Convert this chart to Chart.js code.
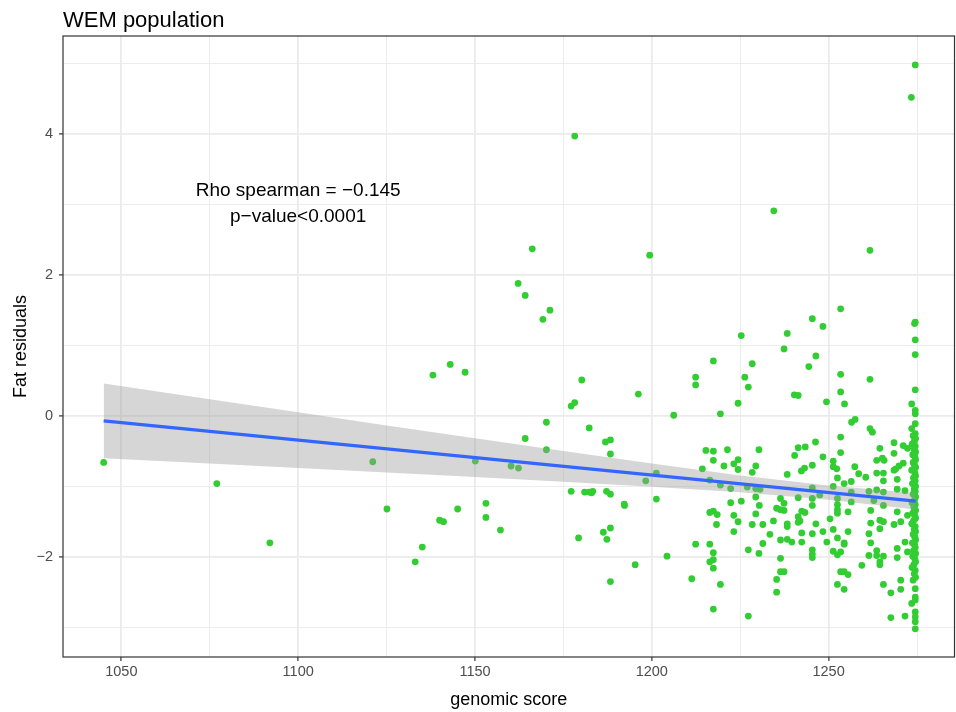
<!DOCTYPE html>
<html>
<head>
<meta charset="utf-8">
<title>WEM population</title>
<script src="https://cdn.jsdelivr.net/npm/chart.js@4/dist/chart.umd.min.js"></script>
<style>
  html, body { margin: 0; padding: 0; background: #ffffff; overflow: hidden; }
  #wrap { width: 956px; height: 712px; }
  canvas { display: block; }
</style>
</head>
<body>
<div id="wrap"><canvas id="scatterChart" width="956" height="712"></canvas></div>
<script>
// --- Data ---

// genomic score of each animal (x), same order as fatResiduals
const genomicScore = [
    // left / middle part
    1045.0, 1077.0, 1092.0, 1121.1, 1125.1, 1133.1, 1135.1, 1138.1, 1140.0, 1141.1,
    1143.0, 1145.1, 1147.2, 1150.1, 1153.1, 1153.1, 1157.2, 1160.2, 1162.2, 1162.3,
    1164.2, 1164.2, 1166.2, 1169.2, 1170.2, 1170.2, 1171.2, 1177.2, 1177.2, 1178.2,
    1178.2, 1179.3, 1180.2, 1181.0, 1182.3, 1182.3, 1183.3, 1183.0, 1186.3, 1186.9,
    1187.2, 1187.3, 1188.3, 1188.3, 1188.3, 1188.3, 1188.3, 1192.2, 1192.3, 1195.3,
    1196.2, 1198.3, 1199.4, 1201.3, 1201.3,
    // upper right
    1234.5, 1261.7, 1253.4, 1245.4, 1248.4, 1238.3, 1225.3, 1237.4, 1217.4, 1228.4,
    1246.4, 1244.4, 1212.4, 1212.4, 1226.3, 1227.3, 1253.4, 1253.4, 1254.5, 1240.3,
    1241.4, 1249.4, 1224.4, 1206.2, 1219.4, 1256.5, 1257.5, 1261.7, 1261.7, 1262.4,
    // dense cloud 1200-1262
    1253.4, 1253.4, 1246.3, 1241.4, 1243.4, 1240.4, 1248.4, 1251.3, 1252.3, 1251.3,
    1257.4, 1258.5, 1260.5, 1254.4, 1256.4, 1252.5, 1251.3, 1245.4, 1243.2, 1242.3,
    1238.3, 1230.3, 1229.4, 1228.4, 1221.4, 1215.3, 1217.4, 1217.4, 1214.3, 1220.4,
    1223.2, 1224.4, 1224.4, 1216.4, 1219.4, 1222.3, 1227.0, 1229.4, 1230.6, 1229.4,
    1222.3, 1225.3, 1230.4, 1216.4, 1217.4, 1218.5, 1218.3, 1223.2, 1224.4, 1229.4,
    1228.4, 1231.4, 1223.2, 1234.4, 1233.4, 1231.4, 1230.3, 1227.3, 1236.4, 1237.4,
    1236.4, 1237.4, 1235.3, 1238.3, 1238.3, 1236.4, 1238.3, 1239.6, 1236.4, 1236.4,
    1237.4, 1235.3, 1235.3, 1227.3, 1217.4, 1219.4, 1211.3, 1204.3, 1212.4, 1216.4,
    1217.4, 1216.4, 1217.4, 1217.4, 1241.4, 1241.4, 1242.4, 1243.3, 1241.9, 1241.4,
    1242.4, 1242.4, 1245.4, 1245.4, 1245.4, 1247.5, 1246.4, 1245.4, 1248.4, 1249.5,
    1245.4, 1245.4, 1245.4, 1250.4, 1251.3, 1252.5, 1252.5, 1252.5, 1252.5, 1252.5,
    1254.4, 1254.4, 1255.5, 1255.5, 1256.4, 1256.4, 1251.3, 1252.5, 1253.4, 1253.4,
    1254.4, 1255.5, 1252.5, 1254.4, 1259.4, 1261.4, 1261.9, 1261.9, 1261.4, 1261.9, 1261.4,
    // 1262-1273
    1268.5, 1271.1, 1272.3, 1264.5, 1263.6, 1265.2, 1265.7, 1268.5, 1271.1, 1269.9,
    1269.0, 1268.5, 1263.6, 1265.5, 1265.5, 1269.4, 1263.6, 1265.5, 1269.4, 1271.6,
    1262.8, 1265.5, 1269.4, 1264.5, 1265.5, 1264.5, 1268.5, 1270.4, 1272.3, 1263.6,
    1263.6, 1265.5, 1269.4, 1269.4, 1271.6, 1272.3, 1264.5, 1264.5, 1265.5, 1267.6,
    1270.4, 1270.4, 1267.6, 1271.6,
    // column at the maximum score
    1274.5, 1273.4, 1274.5, 1274.3, 1274.5, 1274.5, 1274.5, 1273.5, 1274.5, 1274.5, 1274.5, 1273.5,
    1274.5, 1273.9, 1274.6, 1274.2, 1273.6, 1274.5, 1274.1, 1274.6, 1273.8, 1274.4,
    1274.6, 1273.9, 1274.3, 1274.6, 1273.5, 1274.4, 1274.6, 1274.0, 1274.5, 1273.7,
    1274.6, 1274.2, 1274.5, 1273.9, 1274.6, 1274.3, 1273.6, 1274.5, 1274.1, 1274.6,
    1273.8, 1274.4, 1274.6, 1274.0, 1273.5, 1274.5, 1274.2, 1274.6, 1273.9, 1274.4,
    1274.6, 1273.7, 1274.3, 1274.5, 1274.0, 1274.6, 1273.8, 1274.4, 1274.6, 1274.1,
    1273.6, 1274.5, 1274.2, 1274.6, 1273.9,
    1274.5, 1274.5, 1274.5, 1273.5, 1274.5, 1274.5, 1274.5, 1274.5
];

// fat residual of each animal (y)
const fatResiduals = [
    -0.66, -0.96, -1.80, -0.65, -1.32, -2.07, -1.86, 0.58, -1.48, -1.50,
    0.73, -1.32, 0.62, -0.64, -1.24, -1.44, -1.62, -0.71, 1.88, -0.74,
    -0.32, 1.71, 2.37, 1.37, -0.09, -0.48, 1.50, 0.14, -1.07, 0.19,
    3.97, -1.73, 0.51, -1.08, -0.17, -1.08, -1.07, -1.09, -1.65, -0.37,
    -1.07, -1.75, -0.34, -0.54, -1.11, -1.59, -2.35, -1.25, -1.27, -2.11,
    0.31, -0.92, 2.28, -0.81, -1.18,

    2.91, 2.35, 1.52, 1.38, 1.27, 1.17, 1.14, 0.95, 0.78, 0.74,
    0.85, 0.70, 0.55, 0.44, 0.55, 0.41, 0.59, 0.34, 0.17, 0.30,
    0.29, 0.20, 0.18, 0.01, 0.03, -0.09, -0.05, 0.52, -0.18, -0.23,

    -0.30, -0.52, -0.37, -0.45, -0.44, -0.56, -0.58, -0.64, -0.75, -0.72,
    -0.72, -0.82, -0.87, -0.96, -0.93, -0.88, -1.00, -0.70, -0.74, -0.78,
    -0.83, -0.48, -0.71, -0.80, -0.48, -0.49, -0.50, -0.63, -0.75, -0.71,
    -0.68, -0.62, -0.76, -0.91, -0.98, -1.03, -1.01, -1.03, -1.04, -1.15,
    -1.23, -1.21, -1.27, -1.37, -1.35, -1.40, -1.54, -1.41, -1.50, -1.39,
    -1.54, -1.54, -1.64, -1.49, -1.68, -1.81, -1.95, -1.90, -1.17, -1.24,
    -1.33, -1.34, -1.31, -1.53, -1.57, -1.76, -1.75, -1.79, -2.02, -2.21,
    -2.21, -2.32, -2.50, -2.84, -2.74, -2.39, -2.31, -1.99, -1.82, -1.82,
    -1.94, -2.07, -2.04, -2.16, -1.16, -1.43, -1.35, -1.37, -1.49, -1.51,
    -1.66, -1.79, -1.02, -1.17, -1.27, -1.12, -1.53, -1.67, -1.64, -1.79,
    -1.90, -1.96, -2.01, -1.46, -1.61, -1.17, -1.26, -1.33, -1.38, -1.73,
    -1.80, -1.82, -1.36, -1.64, -1.22, -1.08, -1.92, -1.97, -1.93, -2.21,
    -2.21, -2.25, -2.39, -2.46, -2.12, -1.98, -1.34, -1.52, -1.67, -1.80, -1.07,

    -0.38, -0.42, -0.46, -0.46, -0.63, -0.60, -0.63, -0.53, -0.67, -0.71,
    -0.75, -0.77, -0.81, -0.81, -0.92, -0.90, -1.05, -1.08, -1.04, -1.06,
    -1.20, -1.27, -1.36, -1.48, -1.50, -1.60, -1.54, -1.50, -1.41, -1.91,
    -1.98, -1.99, -1.88, -2.01, -1.79, -1.93, -2.07, -2.11, -2.39, -2.51,
    -2.33, -2.46, -2.86, -2.84,

    4.98, 4.52, 1.33, 1.31, 1.08, 0.87, 0.37, 0.17, 0.08, 0.03, -0.11, -0.18,
    -0.25, -0.28, -0.32, -0.36, -0.40, -0.43, -0.47, -0.51, -0.55, -0.58,
    -0.62, -0.66, -0.70, -0.73, -0.77, -0.81, -0.85, -0.88, -0.92, -0.96,
    -1.00, -1.04, -1.07, -1.11, -1.15, -1.19, -1.23, -1.26, -1.30, -1.34,
    -1.38, -1.42, -1.45, -1.49, -1.53, -1.57, -1.61, -1.64, -1.68, -1.72,
    -1.76, -1.80, -1.83, -1.87, -1.91, -1.95, -1.99, -2.03, -2.07, -2.11,
    -2.15, -2.19, -2.24, -2.29, -2.33,
    -2.45, -2.57, -2.61, -2.66, -2.78, -2.85, -2.92, -3.02
];

// linear fit and its confidence band
const fitScore = [1045, 1274.6];
const fitValue = [-0.071, -1.21];
const bandScore = [1045, 1075, 1100, 1125, 1150, 1175, 1200, 1225, 1250, 1274.6];
const bandUpper = [0.459, 0.236, 0.051, -0.134, -0.317, -0.499, -0.676, -0.844, -0.988, -1.094];
const bandLower = [-0.601, -0.676, -0.739, -0.802, -0.867, -0.933, -1.004, -1.084, -1.188, -1.326];

// axes
const xMajorTicks = [1050, 1100, 1150, 1200, 1250];
const xMinorTicks = [1075, 1125, 1175, 1225, 1275];
const yMajorTicks = [-2, 0, 2, 4];
const yMinorTicks = [-3, -1, 1, 3, 5];

// annotation text
const annotationLines = ['Rho spearman = \u22120.145', 'p\u2212value<0.0001'];

document.addEventListener('DOMContentLoaded', () => {
    if (genomicScore.length !== fatResiduals.length) {
        console.log('length mismatch', genomicScore.length, fatResiduals.length);
    }

    const FONT = '"Liberation Sans", Arial, Helvetica, sans-serif';
    const xRange = { min: 1033.5, max: 1285.6 };
    const yRange = { min: -3.42, max: 5.39 };
    const annoPos = { x: 1100, y: [3.2, 2.82] };

    const toPoints = (xs, ys) => xs.map((x, i) => ({ x: x, y: ys[i] }));
    const fmtNum = (v) => (v < 0 ? '\u2212' + Math.abs(v) : String(v));

    // frame, title and text annotation
    const decorPlugin = {
        id: 'decor',
        afterDatasetsDraw(chart) {
            const { ctx, chartArea: a, scales: { x, y } } = chart;
            ctx.save();
            ctx.fillStyle = '#000000';
            ctx.font = '19px ' + FONT;
            ctx.textAlign = 'center';
            ctx.textBaseline = 'middle';
            annotationLines.forEach((t, i) => {
                ctx.fillText(t, x.getPixelForValue(annoPos.x), y.getPixelForValue(annoPos.y[i]));
            });
            ctx.strokeStyle = '#333333';
            ctx.lineWidth = 1.2;
            ctx.strokeRect(a.left, a.top, a.right - a.left, a.bottom - a.top);
            ctx.font = '22px ' + FONT;
            ctx.textAlign = 'left';
            ctx.textBaseline = 'alphabetic';
            ctx.fillText('WEM population', a.left, 27);
            ctx.restore();
        }
    };

    const ctx = document.getElementById('scatterChart').getContext('2d');
    new Chart(ctx, {
        type: 'scatter',
        data: {
            datasets: [
                {
                    type: 'line',
                    data: toPoints(fitScore, fitValue),
                    borderColor: '#3366FF',
                    borderWidth: 3.3,
                    pointRadius: 0,
                    fill: false,
                    order: 1
                },
                {
                    type: 'line',
                    data: toPoints(bandScore, bandUpper),
                    borderColor: 'rgba(0,0,0,0)',
                    backgroundColor: 'rgba(153,153,153,0.4)',
                    pointRadius: 0,
                    fill: '+1',
                    order: 2
                },
                {
                    type: 'line',
                    data: toPoints(bandScore, bandLower),
                    borderColor: 'rgba(0,0,0,0)',
                    pointRadius: 0,
                    fill: false,
                    order: 2
                },
                {
                    type: 'scatter',
                    data: toPoints(genomicScore, fatResiduals),
                    backgroundColor: '#32CD32',
                    borderWidth: 0,
                    pointRadius: 3.4,
                    order: 3
                }
            ]
        },
        options: {
            responsive: false,
            animation: false,
            devicePixelRatio: 1,
            layout: { autoPadding: false, padding: { top: 36, right: 1.5, bottom: 0, left: 0 } },
            plugins: { legend: { display: false }, tooltip: { enabled: false }, title: { display: false } },
            scales: {
                x: {
                    type: 'linear',
                    position: 'bottom',
                    min: xRange.min,
                    max: xRange.max,
                    afterBuildTicks: (axis) => {
                        axis.ticks = xMajorTicks.concat(xMinorTicks).sort((a, b) => a - b).map(v => ({ value: v }));
                    },
                    afterFit: (axis) => {
                        axis.height = 55;
                        axis.paddingLeft = 0;
                        axis.paddingRight = 0;
                    },
                    border: { display: false },
                    grid: {
                        color: '#EBEBEB',
                        lineWidth: (c) => (xMajorTicks.includes(c.tick.value) ? 1.8 : 0.9),
                        tickLength: 4,
                        tickWidth: 1.2,
                        tickColor: (c) => (xMajorTicks.includes(c.tick.value) ? '#333333' : 'rgba(0,0,0,0)')
                    },
                    ticks: {
                        autoSkip: false,
                        maxRotation: 0,
                        padding: 2,
                        color: '#4D4D4D',
                        font: { family: FONT, size: 14.5 },
                        callback: (v) => (xMajorTicks.includes(v) ? String(v) : '')
                    },
                    title: {
                        display: true,
                        text: 'genomic score',
                        color: '#000000',
                        font: { family: FONT, size: 18 },
                        padding: { top: 0, bottom: 1 }
                    }
                },
                y: {
                    type: 'linear',
                    position: 'left',
                    min: yRange.min,
                    max: yRange.max,
                    afterBuildTicks: (axis) => {
                        axis.ticks = yMajorTicks.concat(yMinorTicks).sort((a, b) => a - b).map(v => ({ value: v }));
                    },
                    afterFit: (axis) => {
                        axis.width = 63;
                        axis.paddingTop = 0;
                        axis.paddingBottom = 0;
                    },
                    border: { display: false },
                    grid: {
                        color: '#EBEBEB',
                        lineWidth: (c) => (yMajorTicks.includes(c.tick.value) ? 1.8 : 0.9),
                        tickLength: 4,
                        tickWidth: 1.2,
                        tickColor: (c) => (yMajorTicks.includes(c.tick.value) ? '#333333' : 'rgba(0,0,0,0)')
                    },
                    ticks: {
                        autoSkip: false,
                        padding: 6,
                        color: '#4D4D4D',
                        font: { family: FONT, size: 14.5 },
                        callback: (v) => (yMajorTicks.includes(v) ? fmtNum(v) : '')
                    },
                    title: {
                        display: true,
                        text: 'Fat residuals',
                        color: '#000000',
                        font: { family: FONT, size: 18 },
                        padding: { top: 10, bottom: 0 }
                    }
                }
            }
        },
        plugins: [decorPlugin]
    });
});
</script>
</body>
</html>
